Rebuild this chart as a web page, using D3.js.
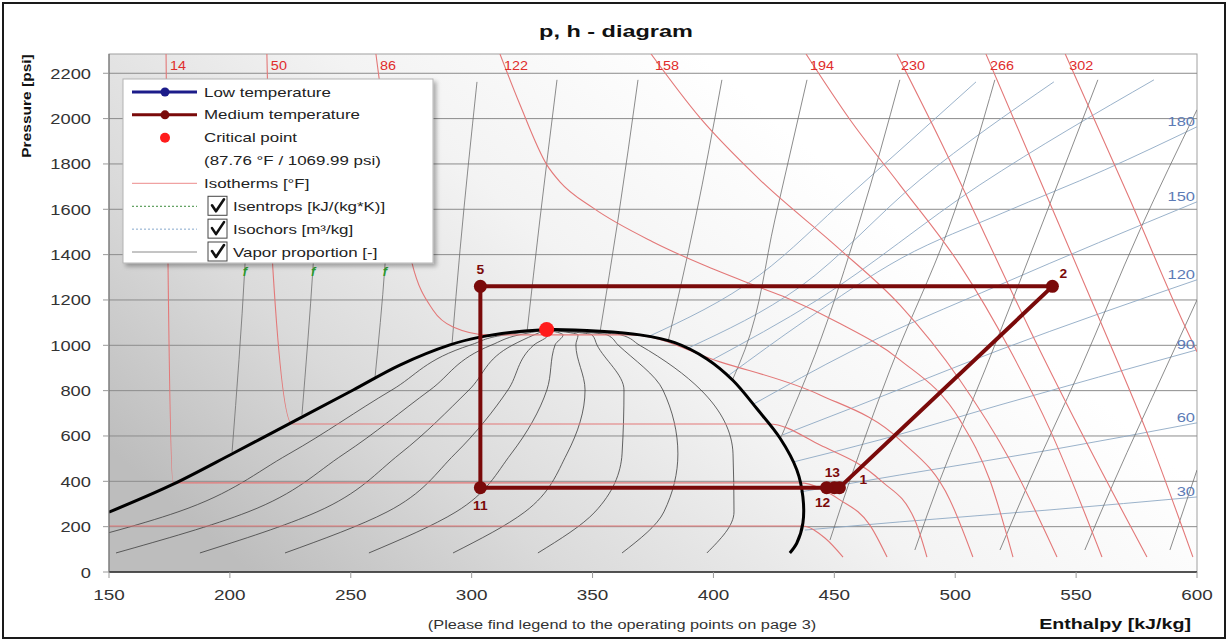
<!DOCTYPE html>
<html>
<head>
<meta charset="utf-8">
<script src="https://cdn.jsdelivr.net/npm/d3@7"></script>
<style>
  body { margin: 0; background: #fff; }
  svg text { font-family: "Liberation Sans", Arial, sans-serif; }
</style>
</head>
<body>
<svg id="chart" width="1229" height="642"></svg>
<script>
// axis ticks
const enthalpyTicks = [150, 200, 250, 300, 350, 400, 450, 500, 550, 600];
const pressureTicks = [0, 200, 400, 600, 800, 1000, 1200, 1400, 1600, 1800, 2000, 2200];

// saturation curve [h kJ/kg, p psi]
const domeCurve = [[150, 264], [175.9, 384], [201.4, 524], [227.6, 671], [251, 803], [270.3, 913],
  [291, 1002], [303.4, 1036], [318.6, 1060], [331, 1069], [353.1, 1062], [369.6, 1046], [384, 1012],
  [397.3, 940], [408.1, 845], [418, 720], [427.5, 591], [434.5, 450], [437, 331], [437, 216],
  [434.5, 128], [431.6, 84]];

// vapor proportion lines 0.1 .. 0.9
const qualityLines = [
  [[117.7, 84], [178.5, 265], [224.4, 521], [267.0, 803], [299.7, 1002], [313.8, 1046], [330.7, 1068]],
  [[152.9, 84], [207.5, 265], [247.2, 521], [282.8, 803], [308.4, 1002], [319.6, 1046], [330.7, 1068]],
  [[187.6, 84], [236.0, 265], [270.3, 521], [298.9, 803], [317.1, 1002], [325.8, 1046], [330.7, 1068]],
  [[222.8, 84], [265.0, 265], [293.1, 521], [315.0, 803], [325.8, 1002], [331.6, 1046], [330.7, 1068]],
  [[257.5, 84], [293.5, 265], [316.3, 521], [331.1, 803], [334.5, 1002], [337.8, 1046], [330.7, 1068]],
  [[292.3, 84], [322.0, 265], [339.4, 521], [346.9, 803], [343.1, 1002], [344.0, 1046], [330.7, 1068]],
  [[327.4, 84], [351.0, 265], [362.2, 521], [363.0, 803], [351.8, 1002], [349.8, 1046], [330.7, 1068]],
  [[362.2, 84], [379.5, 265], [385.3, 521], [379.1, 803], [360.5, 1002], [356.0, 1046], [330.7, 1068]],
  [[397.3, 84], [408.5, 265], [408.1, 521], [394.8, 803], [369.2, 1002], [361.7, 1046], [330.7, 1068]]
];

// isotherms in deg F
const isotherms = [
  {t: -22, pts: [[120, 203], [436.8, 203], [446.1, 150], [453.6, 66]]},
  {t: 14, pts: [[173.6, 2285], [174.4, 1364], [176.5, 393], [435.7, 393], [452.3, 318], [464.7, 207], [471.8, 66]]},
  {t: 50, pts: [[215.3, 2285], [217.8, 1333], [225.7, 653], [423, 653], [444.1, 560], [468.9, 406], [483.3, 229], [488.3, 66]]},
  {t: 86, pts: [[260.4, 2285], [264.1, 1995], [269.5, 1686], [275.3, 1364], [284.0, 1156], [292.3, 1081], [307, 1046],
    [366, 1046], [402.7, 927], [444.1, 781], [477.1, 583], [497.8, 318], [507.3, 66]]},
  {t: 122, pts: [[311.7, 2285], [320.0, 2061], [331.1, 1796], [336.5, 1721], [350.2, 1606], [375.0, 1456], [395.7, 1355],
    [416.3, 1267], [430.4, 1209], [451.1, 1103], [477.1, 936], [501.9, 671], [514.3, 406], [523.9, 66]]},
  {t: 158, pts: [[374.2, 2285], [394.4, 2004], [419.2, 1730], [451.1, 1434], [477.1, 1178], [501.9, 847], [522.6, 494], [542.1, 66]]},
  {t: 194, pts: [[438.3, 2285], [456.5, 1995], [477.1, 1708], [501.9, 1355], [522.6, 980], [539.2, 627], [560.7, 66]]},
  {t: 230, pts: [[475.9, 2285], [493.7, 1906], [512.3, 1487], [530.9, 1068], [551.6, 627], [579.3, 66]]},
  {t: 266, pts: [[512.7, 2285], [535.0, 1730], [559.8, 1112], [580.5, 583], [598.3, 66]]},
  {t: 302, pts: [[545.5, 2285], [572.3, 1642], [594.2, 1103], [600, 971]]}
];

// isentropes
const isentropes = [
  [[209.1, 2171], [206.2, 1346], [200.9, 530]],
  [[238.1, 2171], [234.4, 1346], [229.8, 693]],
  [[267.0, 2171], [264.1, 1346], [260.0, 856]],
  [[302.2, 2162], [295.2, 1421], [291.9, 1010]],
  [[335.3, 2171], [328.2, 1553], [322.9, 1059]],
  [[368.8, 2171], [360.5, 1553], [353.1, 1059]],
  [[403.5, 2171], [392.4, 1553], [381.2, 1015]],
  [[438.7, 2171], [425.4, 1553], [413.0, 980], [407.7, 843]],
  [[477.1, 2171], [460.6, 1553], [442.0, 958], [428.0, 596]],
  [[516.4, 2171], [497.0, 1509], [473.0, 891], [456.5, 406], [448.2, 141]],
  [[559.0, 2171], [535.0, 1509], [512.3, 891], [493.7, 406], [483.3, 97]],
  [[600, 2039], [576.4, 1509], [551.6, 891], [530.9, 406], [518.5, 97]],
  [[600, 1200], [586.7, 891], [566.0, 406], [553.6, 97]],
  [[600, 450], [588.8, 97]]
];
const isentropeMarks = [0, 1, 2];

// isochors (labelled at the right edge)
const isochors = [
  {v: 30, pts: [[437.8, 185], [477.1, 221], [539.2, 274], [600, 331]]},
  {v: 60, pts: [[435.8, 353], [477.1, 428], [539.2, 538], [600, 658]]},
  {v: 90, pts: [[432.9, 485], [468.9, 583], [518.5, 737], [600, 980]]},
  {v: 120, pts: [[428.7, 605], [460.6, 737], [518.5, 980], [600, 1289]]},
  {v: 150, pts: [[416.5, 740], [456.5, 971], [518.5, 1267], [600, 1633]]},
  {v: 180, pts: [[406, 865], [438, 1110], [478.0, 1386], [519.7, 1584], [561.9, 1774], [600, 1964]]},
  {v: 210, pts: [[398.5, 930], [443, 1200], [510.2, 1708], [582.2, 2171]]},
  {v: 240, pts: [[390, 990], [435.8, 1258], [485.4, 1730], [540.8, 2162]]},
  {v: 270, pts: [[373, 1038], [419.2, 1311], [456.5, 1664], [508.6, 2162]]}
];

// medium temperature cycle
const cyclePoints = [
  {id: '5', h: 303.6, p: 1260},
  {id: '2', h: 540.2, p: 1260},
  {id: '1', h: 452.1, p: 372},
  {id: '13', h: 450.0, p: 372},
  {id: '12', h: 446.8, p: 372},
  {id: '11', h: 303.6, p: 372}
];
const criticalPoint = {h: 331, p: 1069.99, t: 87.76};

const legendRows = ['Low temperature', 'Medium temperature', 'Critical point', '(87.76 °F / 1069.99 psi)',
  'Isotherms [°F]', 'Isentrops [kJ/(kg*K)]', 'Isochors [m³/kg]', 'Vapor proportion [-]'];

const svg = d3.select('#chart');
const x = d3.scaleLinear().domain([150, 600]).range([109, 1197]);
const y = d3.scaleLinear().domain([0, 2285]).range([572, 54]);

const defs = svg.append('defs');
let grad = defs.append('linearGradient').attr('id', 'bg')
  .attr('gradientUnits', 'userSpaceOnUse')
  .attr('x1', 700).attr('y1', 54).attr('x2', 250).attr('y2', 572);
[[0, '#ffffff'], [0.35, '#f3f3f3'], [0.7, '#dadada'], [1, '#bdbdbd']].forEach(s => {
  grad.append('stop').attr('offset', s[0]).attr('stop-color', s[1]);
});
defs.append('clipPath').attr('id', 'plotClip').append('rect')
  .attr('x', 109).attr('y', 54).attr('width', 1088).attr('height', 518);
defs.append('filter').attr('id', 'shadow').attr('x', '-10%').attr('y', '-10%').attr('width', '130%').attr('height', '130%')
  .append('feDropShadow').attr('dx', 3).attr('dy', 3).attr('stdDeviation', 2)
  .attr('flood-color', '#000').attr('flood-opacity', 0.3);

// outer frame and title
svg.append('rect').attr('x', 3).attr('y', 3).attr('width', 1222).attr('height', 635)
  .attr('fill', 'none').attr('stroke', '#1a1a1a').attr('stroke-width', 2);
svg.append('text').attr('x', 616).attr('y', 37).attr('text-anchor', 'middle')
  .attr('font-size', 17).attr('font-weight', 'bold').attr('fill', '#111').attr('data-k', 1.38)
  .text('p, h - diagram');

// plot background
svg.append('rect').attr('x', 109).attr('y', 54).attr('width', 1088).attr('height', 518)
  .attr('fill', 'url(#bg)').attr('stroke', '#a0a0a0');

// grid
svg.append('g').selectAll('line')
  .data(pressureTicks.filter(p => p > 0))
  .join('line')
  .attr('x1', x(150)).attr('x2', x(600))
  .attr('y1', d => y(d)).attr('y2', d => y(d))
  .attr('stroke', '#8c8c8c').attr('stroke-width', 1);

const curves = svg.append('g').attr('clip-path', 'url(#plotClip)');
const lineX = d3.line().x(d => x(d[0])).y(d => y(d[1])).curve(d3.curveMonotoneX);
const lineY = d3.line().x(d => x(d[0])).y(d => y(d[1])).curve(d3.curveMonotoneY);
const lineC = d3.line().x(d => x(d[0])).y(d => y(d[1])).curve(d3.curveCatmullRom.alpha(0.5));
const lineL = d3.line().x(d => x(d.h)).y(d => y(d.p));

curves.append('g').selectAll('path')
  .data(qualityLines)
  .join('path')
  .attr('d', d => lineY(d.slice().reverse()))
  .attr('fill', 'none').attr('stroke', '#3e3e3e').attr('stroke-width', 0.8);

curves.append('g').selectAll('path')
  .data(isochors)
  .join('path')
  .attr('d', d => lineX(d.pts))
  .attr('fill', 'none').attr('stroke', '#8fa9c4').attr('stroke-width', 0.9);

curves.append('g').selectAll('path')
  .data(isentropes)
  .join('path')
  .attr('d', d => lineY(d))
  .attr('fill', 'none').attr('stroke', '#6f6f6f').attr('stroke-width', 0.8);

curves.append('g').selectAll('path')
  .data(isotherms)
  .join('path')
  .attr('d', d => lineX(d.pts))
  .attr('fill', 'none').attr('stroke', '#e37878').attr('stroke-width', 1.1);

curves.append('path')
  .attr('d', lineC(domeCurve))
  .attr('fill', 'none').attr('stroke', '#000').attr('stroke-width', 3);

// cycle
curves.append('path')
  .attr('d', lineL(cyclePoints.concat([cyclePoints[0]])))
  .attr('fill', 'none').attr('stroke', '#7a0a0a').attr('stroke-width', 4)
  .attr('stroke-linejoin', 'round');
curves.append('g').selectAll('circle')
  .data(cyclePoints)
  .join('circle')
  .attr('cx', d => x(d.h)).attr('cy', d => y(d.p)).attr('r', 6.5)
  .attr('fill', '#7a0a0a');
curves.append('circle')
  .attr('cx', x(criticalPoint.h)).attr('cy', y(criticalPoint.p)).attr('r', 7.5)
  .attr('fill', '#ff1c1c');

const labelOffset = {'5': [0, -12], '2': [11, -8], '1': [24, -4], '13': [-2, -11], '12': [-4, 19], '11': [0, 22]};
svg.append('g').selectAll('text')
  .data(cyclePoints)
  .join('text')
  .attr('x', d => x(d.h) + labelOffset[d.id][0])
  .attr('y', d => y(d.p) + labelOffset[d.id][1])
  .attr('text-anchor', 'middle')
  .attr('font-size', 12).attr('font-weight', 'bold').attr('fill', '#7a0a0a')
  .attr('data-k', 1.15)
  .text(d => d.id);

// isotherm labels on top
svg.append('g').selectAll('text')
  .data(isotherms.filter(d => d.pts[0][1] > 2200))
  .join('text')
  .attr('x', d => x(d.pts[0][0]) + 4)
  .attr('y', 70)
  .attr('font-size', 12).attr('fill', '#e02c2c').attr('data-k', 1.2)
  .text(d => d.t);

// isochor labels on the right
svg.append('g').selectAll('text')
  .data(isochors.filter(d => d.pts[d.pts.length - 1][0] >= 600))
  .join('text')
  .attr('x', 1195)
  .attr('y', d => y(d.pts[d.pts.length - 1][1]) - 1)
  .attr('text-anchor', 'end')
  .attr('font-size', 13.5).attr('fill', '#5c7bb6').attr('data-k', 1.22)
  .text(d => d.v);

// small isentrope marks below the legend
svg.append('g').selectAll('text')
  .data(isentropeMarks)
  .join('text')
  .attr('x', d => x(isentropes[d][1][0]))
  .attr('y', d => y(isentropes[d][1][1]) + 9)
  .attr('text-anchor', 'middle')
  .attr('font-size', 13).attr('font-style', 'italic').attr('font-weight', 'bold').attr('fill', '#2f9a2f')
  .text('f');

// axes
svg.append('line').attr('x1', 109).attr('x2', 1197).attr('y1', 572).attr('y2', 572)
  .attr('stroke', '#2a2a2a').attr('stroke-width', 1.5);
svg.append('line').attr('x1', 109).attr('x2', 109).attr('y1', 54).attr('y2', 572)
  .attr('stroke', '#6a6a6a').attr('stroke-width', 1);

svg.append('g').selectAll('line')
  .data(pressureTicks)
  .join('line')
  .attr('x1', 103).attr('x2', 109).attr('y1', d => y(d)).attr('y2', d => y(d))
  .attr('stroke', '#999');
svg.append('g').selectAll('text')
  .data(pressureTicks)
  .join('text')
  .attr('x', 91).attr('y', d => y(d) + 5.5)
  .attr('text-anchor', 'end')
  .attr('font-size', 15.5).attr('fill', '#333').attr('data-k', 1.18)
  .text(d => d);

svg.append('g').selectAll('line')
  .data(enthalpyTicks)
  .join('line')
  .attr('x1', d => x(d)).attr('x2', d => x(d)).attr('y1', 572).attr('y2', 578)
  .attr('stroke', '#999');
svg.append('g').selectAll('text')
  .data(enthalpyTicks)
  .join('text')
  .attr('x', d => x(d)).attr('y', 600)
  .attr('text-anchor', 'middle')
  .attr('font-size', 15.5).attr('fill', '#333').attr('data-k', 1.22)
  .text(d => d);

svg.append('text')
  .attr('transform', 'translate(31,106) rotate(-90)')
  .attr('text-anchor', 'middle')
  .attr('font-size', 13.5).attr('font-weight', 'bold').attr('fill', '#111').attr('data-k', 1.15)
  .text('Pressure [psi]');
svg.append('text')
  .attr('x', 1191).attr('y', 629)
  .attr('text-anchor', 'end')
  .attr('font-size', 15).attr('font-weight', 'bold').attr('fill', '#111').attr('data-k', 1.31)
  .text('Enthalpy [kJ/kg]');
svg.append('text')
  .attr('x', 622).attr('y', 629)
  .attr('text-anchor', 'middle')
  .attr('font-size', 12).attr('fill', '#333').attr('data-k', 1.36)
  .text('(Please find legend to the operating points on page 3)');

// legend
const legend = svg.append('g');
legend.append('rect').attr('x', 123).attr('y', 79).attr('width', 310).attr('height', 184)
  .attr('fill', '#fff').attr('stroke', '#b4b4b4').attr('filter', 'url(#shadow)');
const rowY = d3.scalePoint().domain(d3.range(legendRows.length)).range([92, 252]);
const rows = legend.selectAll('g.row')
  .data(legendRows)
  .join('g').attr('class', 'row')
  .attr('transform', (d, i) => `translate(0,${rowY(i)})`);

rows.append('text')
  .attr('x', (d, i) => i >= 5 ? 233 : 204)
  .attr('y', 4.5)
  .attr('font-size', 13).attr('fill', '#222').attr('data-k', 1.3)
  .text(d => d);

const sampleStyle = [
  {stroke: '#1c1c8a', width: 3, dot: '#1c1c8a'},
  {stroke: '#7a0a0a', width: 3, dot: '#7a0a0a'},
  {stroke: null, dot: '#ff1c1c'},
  null,
  {stroke: '#f0a2a2', width: 1.2},
  {stroke: '#3c8c3c', width: 1, dash: '2,2'},
  {stroke: '#86a8cc', width: 1, dash: '2,2'},
  {stroke: '#8a8a8a', width: 1}
];
rows.each(function(d, i) {
  const s = sampleStyle[i];
  const g = d3.select(this);
  if (!s) return;
  if (s.stroke) {
    g.append('line').attr('x1', 132).attr('x2', 197).attr('y1', 0).attr('y2', 0)
      .attr('stroke', s.stroke).attr('stroke-width', s.width)
      .attr('stroke-dasharray', s.dash || null);
  }
  if (s.dot) {
    g.append('circle').attr('cx', 165).attr('cy', 0).attr('r', i === 2 ? 5 : 4.5).attr('fill', s.dot);
  }
  if (i >= 5) {
    g.append('rect').attr('x', 208).attr('y', -10).attr('width', 19).attr('height', 19)
      .attr('fill', '#fff').attr('stroke', '#444');
    g.append('path').attr('d', 'M212,-1 L216,5 L224,-7')
      .attr('fill', 'none').attr('stroke', '#111').attr('stroke-width', 2.6)
      .attr('stroke-linecap', 'round').attr('stroke-linejoin', 'round');
  }
});

// widen text to match the source's wider lettering
svg.selectAll('text[data-k]').each(function() {
  const k = +this.getAttribute('data-k');
  const w = this.getComputedTextLength();
  d3.select(this).attr('textLength', w * k).attr('lengthAdjust', 'spacingAndGlyphs');
});
</script>
</body>
</html>
